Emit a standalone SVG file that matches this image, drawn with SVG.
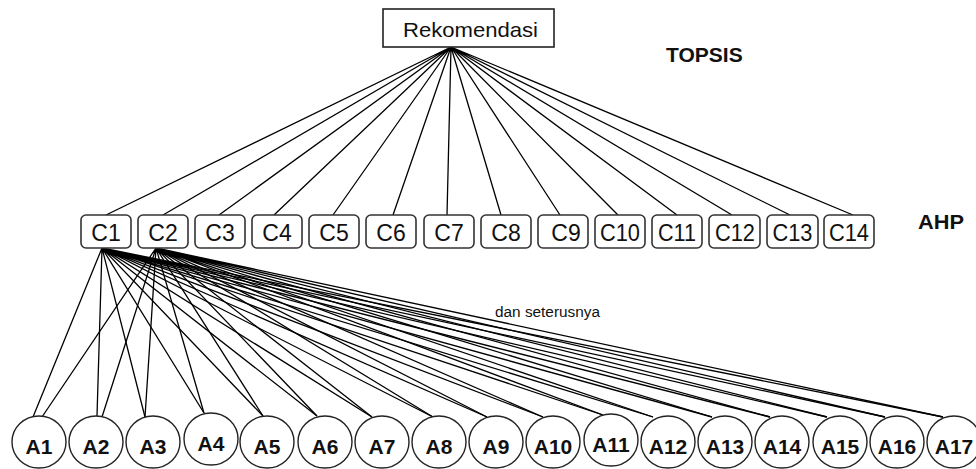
<svg xmlns="http://www.w3.org/2000/svg" width="976" height="469" viewBox="0 0 976 469">
<style>
.bg{fill:#fff}
.root{fill:#fff;stroke:#222;stroke-width:1.6}
.cbox{fill:#fff;stroke:#333;stroke-width:1.6}
.alt{fill:#fff;stroke:#222;stroke-width:1.4}
.ln{stroke:#000;stroke-width:1.3;fill:none}
.t{font-family:"Liberation Sans",Arial,sans-serif;fill:#111}
.ct{font-size:23px;text-anchor:middle}
.at{font-size:21px;font-weight:bold;text-anchor:middle}
.lb{font-size:21px;font-weight:bold}
</style>
<rect class="bg" width="976" height="469"/>
<g id="connectors">
<path class="ln" d="M451 47L106 215M451 47L163 215M451 47L219 215M451 47L274 215M451 47L333 215M451 47L393 215M451 47L447 215M451 47L501 215M451 47L560 215M451 47L618 215M451 47L677 215M451 47L732 215M451 47L790 215M451 47L853 215"/>
<path class="ln" d="M102 248L33 417M102 248L97 416M102 248L145 417M102 248L204 413M102 248L263 416M102 248L317 416M102 248L372 417M102 248L433 417M102 248L487 417M102 248L543 417M102 248L603 415M102 248L653 417M102 248L712 417M102 248L770 417M102 248L827 417M102 248L885 417M102 248L943 417"/>
<path class="ln" d="M156 248L42 417M156 248L102 417M156 248L145 417M156 248L204 413M156 248L263 416M156 248L317 416M156 248L372 417M156 248L433 417M156 248L487 417M156 248L543 417M156 248L603 415M156 248L653 417M156 248L712 417M156 248L770 417M156 248L827 417M156 248L885 417M156 248L943 417"/>
</g>
<g id="rekomendasi"><rect class="root" x="383" y="9" width="171" height="38"/><text class="t" x="403" y="37" font-size="21" textLength="135" lengthAdjust="spacingAndGlyphs">Rekomendasi</text></g>
<text id="topsis" class="t lb" x="666" y="62">TOPSIS</text>
<text id="ahp" class="t lb" x="918" y="229" textLength="46" lengthAdjust="spacingAndGlyphs">AHP</text>
<text id="dst" class="t" x="495" y="317" font-size="14" textLength="105" lengthAdjust="spacingAndGlyphs">dan seterusnya</text>
<g id="C1"><rect class="cbox" x="81" y="215" width="50" height="33" rx="5"/><text class="t ct" x="106" y="241">C1</text></g>
<g id="C2"><rect class="cbox" x="138" y="215" width="50" height="33" rx="5"/><text class="t ct" x="163" y="241">C2</text></g>
<g id="C3"><rect class="cbox" x="195" y="215" width="50" height="33" rx="5"/><text class="t ct" x="220" y="241">C3</text></g>
<g id="C4"><rect class="cbox" x="252" y="215" width="50" height="33" rx="5"/><text class="t ct" x="277" y="241">C4</text></g>
<g id="C5"><rect class="cbox" x="309" y="215" width="50" height="33" rx="5"/><text class="t ct" x="334" y="241">C5</text></g>
<g id="C6"><rect class="cbox" x="366" y="215" width="50" height="33" rx="5"/><text class="t ct" x="391" y="241">C6</text></g>
<g id="C7"><rect class="cbox" x="424" y="215" width="50" height="33" rx="5"/><text class="t ct" x="449" y="241">C7</text></g>
<g id="C8"><rect class="cbox" x="481" y="215" width="50" height="33" rx="5"/><text class="t ct" x="506" y="241">C8</text></g>
<g id="C9"><rect class="cbox" x="538" y="215" width="50" height="33" rx="5"/><text class="t ct" x="566" y="241">C9</text></g>
<g id="C10"><rect class="cbox" x="595" y="215" width="50" height="33" rx="5"/><text class="t ct" x="620" y="241" textLength="40" lengthAdjust="spacingAndGlyphs">C10</text></g>
<g id="C11"><rect class="cbox" x="652" y="215" width="50" height="33" rx="5"/><text class="t ct" x="677" y="241" textLength="38" lengthAdjust="spacingAndGlyphs">C11</text></g>
<g id="C12"><rect class="cbox" x="709" y="215" width="51" height="33" rx="5"/><text class="t ct" x="735" y="241" textLength="40" lengthAdjust="spacingAndGlyphs">C12</text></g>
<g id="C13"><rect class="cbox" x="767" y="215" width="51" height="33" rx="5"/><text class="t ct" x="792.5" y="241" textLength="40" lengthAdjust="spacingAndGlyphs">C13</text></g>
<g id="C14"><rect class="cbox" x="824" y="215" width="50" height="33" rx="5"/><text class="t ct" x="849" y="241" textLength="40" lengthAdjust="spacingAndGlyphs">C14</text></g>
<g id="A1"><ellipse class="alt" cx="39" cy="442" rx="27" ry="26"/><text class="t at" x="39" y="454">A1</text></g>
<g id="A2"><ellipse class="alt" cx="96" cy="442" rx="27" ry="26"/><text class="t at" x="96" y="454">A2</text></g>
<g id="A3"><ellipse class="alt" cx="153" cy="442" rx="27" ry="26"/><text class="t at" x="153" y="454">A3</text></g>
<g id="A4"><ellipse class="alt" cx="211" cy="439" rx="27" ry="26"/><text class="t at" x="211" y="451">A4</text></g>
<g id="A5"><ellipse class="alt" cx="267" cy="442" rx="27" ry="26"/><text class="t at" x="267" y="454">A5</text></g>
<g id="A6"><ellipse class="alt" cx="325" cy="442" rx="27" ry="26"/><text class="t at" x="325" y="454">A6</text></g>
<g id="A7"><ellipse class="alt" cx="382" cy="442" rx="27" ry="26"/><text class="t at" x="382" y="454">A7</text></g>
<g id="A8"><ellipse class="alt" cx="439" cy="442" rx="27" ry="26"/><text class="t at" x="439" y="454">A8</text></g>
<g id="A9"><ellipse class="alt" cx="496" cy="442" rx="27" ry="26"/><text class="t at" x="496" y="454">A9</text></g>
<g id="A10"><ellipse class="alt" cx="553" cy="442" rx="27" ry="26"/><text class="t at" x="553" y="454">A10</text></g>
<g id="A11"><ellipse class="alt" cx="611" cy="440" rx="27" ry="26"/><text class="t at" x="611" y="452">A11</text></g>
<g id="A12"><ellipse class="alt" cx="668" cy="442" rx="27" ry="26"/><text class="t at" x="668" y="454">A12</text></g>
<g id="A13"><ellipse class="alt" cx="725" cy="442" rx="27" ry="26"/><text class="t at" x="725" y="454">A13</text></g>
<g id="A14"><ellipse class="alt" cx="782" cy="442" rx="27" ry="26"/><text class="t at" x="782" y="454">A14</text></g>
<g id="A15"><ellipse class="alt" cx="840" cy="442" rx="27" ry="26"/><text class="t at" x="840" y="454">A15</text></g>
<g id="A16"><ellipse class="alt" cx="897" cy="442" rx="27" ry="26"/><text class="t at" x="897" y="454">A16</text></g>
<g id="A17"><ellipse class="alt" cx="954" cy="442" rx="27" ry="26"/><text class="t at" x="954" y="454">A17</text></g>
</svg>
